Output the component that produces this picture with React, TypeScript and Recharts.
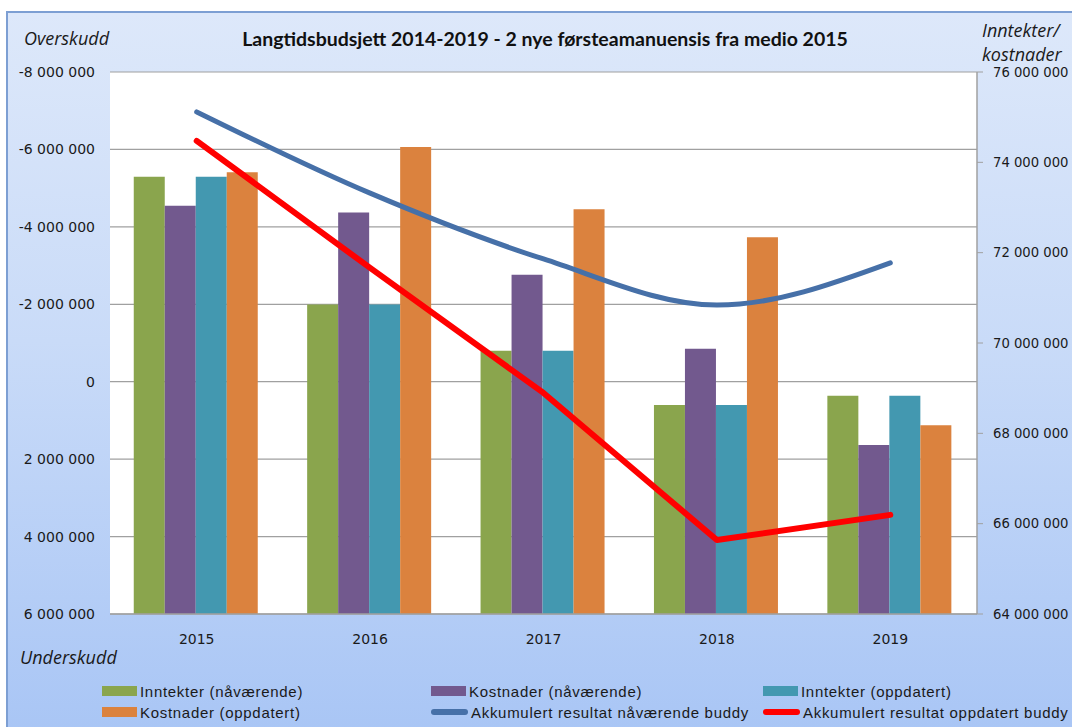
import React from 'react';
import { ComposedChart, Bar, Line, XAxis, YAxis, CartesianGrid } from 'recharts';

const years = ['2015', '2016', '2017', '2018', '2019'];
const inntekterNaa = [73680000, 70850000, 69830000, 68630000, 68830000];
const kostnaderNaa = [73040000, 72890000, 71510000, 69870000, 67740000];
const inntekterOpp = [73680000, 70850000, 69830000, 68630000, 68830000];
const kostnaderOpp = [73780000, 74340000, 72960000, 72340000, 68180000];
const akkNaa = [-6970000, -4870000, -3170000, -1980000, -3070000];
const akkOpp = [-6220000, -2940000, 290000, 4090000, 3440000];

const leftTicks = [-8000000, -6000000, -4000000, -2000000, 0, 2000000, 4000000, 6000000];
const rightTicks = [64000000, 66000000, 68000000, 70000000, 72000000, 74000000, 76000000];

const title = 'Langtidsbudsjett 2014-2019 - 2 nye førsteamanuensis fra medio 2015';

const data = years.map((y, i) => ({
  year: y,
  inntekterNaa: inntekterNaa[i],
  kostnaderNaa: kostnaderNaa[i],
  inntekterOpp: inntekterOpp[i],
  kostnaderOpp: kostnaderOpp[i],
  akkNaa: akkNaa[i],
  akkOpp: akkOpp[i],
}));

const fmt = (v: number) => {
  const s = String(Math.abs(v)).replace(/\B(?=(\d{3})+(?!\d))/g, ' ');
  return v < 0 ? '-' + s : s;
};

const C = {
  green: '#8aa54d',
  purple: '#72598e',
  teal: '#4398b0',
  orange: '#db823e',
  blue: '#4670a8',
  red: '#ff0000',
};

const legendItems = [
  { label: 'Inntekter (nåværende)', color: C.green, kind: 'bar', x: 102, y: 691 },
  { label: 'Kostnader (nåværende)', color: C.purple, kind: 'bar', x: 431, y: 691 },
  { label: 'Inntekter (oppdatert)', color: C.teal, kind: 'bar', x: 763, y: 691 },
  { label: 'Kostnader (oppdatert)', color: C.orange, kind: 'bar', x: 102, y: 712 },
  { label: 'Akkumulert resultat nåværende buddy', color: C.blue, kind: 'line', x: 431, y: 712 },
  { label: 'Akkumulert resultat oppdatert buddy', color: C.red, kind: 'line', x: 763, y: 712 },
];

const tickStyle = { fontFamily: 'DejaVu Sans', fontSize: 14, fill: '#1a1a1a' };
const italic: React.CSSProperties = {
  position: 'absolute',
  fontFamily: 'Open Sans',
  fontStyle: 'italic',
  fontSize: 18,
  color: '#1a1a1a',
  lineHeight: '24px',
  whiteSpace: 'nowrap',
};

export default function App() {
  return (
    <div style={{ position: 'absolute', left: 0, top: 0, width: 1072, height: 727, overflow: 'hidden', background: '#ffffff' }}>
      <div
        style={{
          position: 'absolute',
          left: 6,
          top: 11,
          width: 1080,
          height: 730,
          borderLeft: '2px solid #7d9fd3',
          borderTop: '2px solid #7d9fd3',
          background: 'linear-gradient(180deg, #dde8fa 0%, #c9dbf8 45%, #a8c5f5 100%)',
        }}
      />
      <div style={{ position: 'absolute', left: 0, top: 0 }}>
        <ComposedChart
          width={1072}
          height={727}
          data={data}
          margin={{ top: 72, right: 0, left: 0, bottom: 83 }}
          barCategoryGap="13.7%"
          barGap={0}
        >
          <CartesianGrid yAxisId="left" vertical={false} stroke="#a0a0a0" strokeWidth={1.2} fill="#ffffff" ticks={leftTicks as any} />
          <XAxis
            dataKey="year"
            axisLine={{ stroke: '#a0a0a0', strokeWidth: 1.5 }}
            tickLine={false}
            tick={tickStyle}
            tickMargin={14}
            height={30}
          />
          <YAxis
            yAxisId="left"
            orientation="left"
            width={110}
            reversed
            domain={[-8000000, 6000000]}
            ticks={leftTicks}
            type="number"
            allowDataOverflow
            axisLine={false}
            tickLine={false}
            tickSize={0}
            tickMargin={15}
            tickFormatter={fmt}
            tick={tickStyle}
          />
          <YAxis
            yAxisId="right"
            orientation="right"
            width={95}
            domain={[64000000, 76000000]}
            ticks={rightTicks}
            type="number"
            allowDataOverflow
            axisLine={{ stroke: '#a0a0a0', strokeWidth: 1.5 }}
            tickLine={{ stroke: '#a0a0a0' }}
            tickSize={6}
            tickMargin={10}
            tickFormatter={fmt}
            tick={{ ...tickStyle, fontSize: 13.2, textAnchor: 'start' }}
          />
          <Bar yAxisId="right" dataKey="inntekterNaa" fill={C.green} isAnimationActive={false} />
          <Bar yAxisId="right" dataKey="kostnaderNaa" fill={C.purple} isAnimationActive={false} />
          <Bar yAxisId="right" dataKey="inntekterOpp" fill={C.teal} isAnimationActive={false} />
          <Bar yAxisId="right" dataKey="kostnaderOpp" fill={C.orange} isAnimationActive={false} />
          <Line
            yAxisId="left"
            dataKey="akkNaa"
            type="monotone"
            stroke={C.blue}
            strokeWidth={5}
            strokeLinecap="round"
            dot={false}
            activeDot={false}
            isAnimationActive={false}
          />
          <Line
            yAxisId="left"
            dataKey="akkOpp"
            type="linear"
            stroke={C.red}
            strokeWidth={6}
            strokeLinecap="round"
            strokeLinejoin="round"
            dot={false}
            activeDot={false}
            isAnimationActive={false}
          />
        </ComposedChart>
      </div>
      <div
        style={{
          position: 'absolute',
          left: 0,
          width: 1090,
          top: 26,
          textAlign: 'center',
          fontFamily: 'Lato',
          fontWeight: 700,
          fontSize: 19.5,
          color: '#111',
          lineHeight: '26px',
        }}
      >
        {title}
      </div>
      <div style={{ ...italic, left: 24, top: 26 }}>Overskudd</div>
      <div style={{ ...italic, left: 20, top: 645 }}>Underskudd</div>
      <div style={{ ...italic, left: 982, top: 18 }}>Inntekter/</div>
      <div style={{ ...italic, left: 982, top: 42 }}>kostnader</div>
      {legendItems.map((it) => (
        <div
          key={it.label}
          style={{
            position: 'absolute',
            left: it.x,
            top: it.y - 10,
            height: 20,
            display: 'flex',
            alignItems: 'center',
            whiteSpace: 'nowrap',
          }}
        >
          {it.kind === 'bar' ? (
            <div style={{ width: 35, height: 10, background: it.color }} />
          ) : (
            <div style={{ width: 37, height: 6, borderRadius: 3, background: it.color }} />
          )}
          <span
            style={{
              marginLeft: 3,
              fontFamily: 'Liberation Sans',
              fontSize: 15,
              letterSpacing: 0.7,
              color: '#1a1a1a',
            }}
          >
            {it.label}
          </span>
        </div>
      ))}
    </div>
  );
}
